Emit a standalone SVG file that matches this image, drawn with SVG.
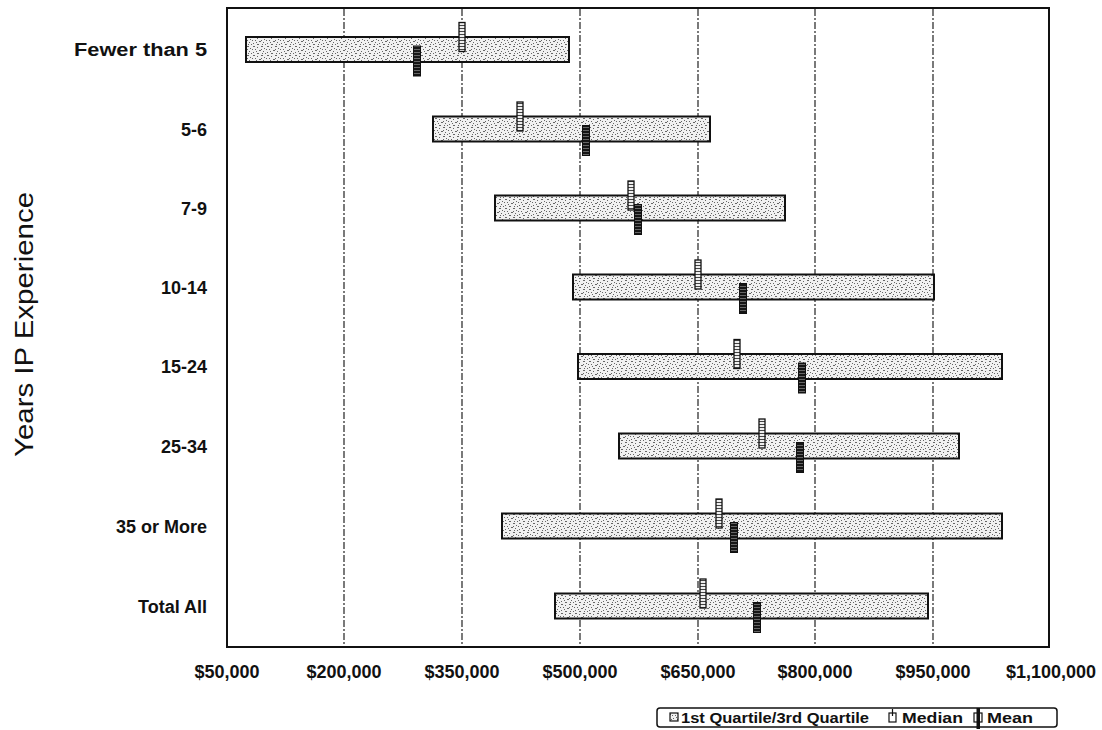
<svg xmlns="http://www.w3.org/2000/svg" width="1102" height="730" viewBox="0 0 1102 730">
<style>
.cat{font-family:"Liberation Sans",Arial,sans-serif;font-weight:bold;font-size:18px;fill:#111;text-anchor:end}
.tick{font-family:"Liberation Sans",Arial,sans-serif;font-weight:bold;font-size:18px;fill:#111;text-anchor:middle}
.ttl{font-family:"Liberation Sans",Arial,sans-serif;font-size:26px;fill:#111;text-anchor:middle}
.leg{font-family:"Liberation Sans",Arial,sans-serif;font-weight:bold;font-size:15px;fill:#111}
.grid{stroke:#333;stroke-width:1.3;stroke-dasharray:7 2 2 2;fill:none}
.frame{stroke:#111;stroke-width:2;fill:none}
.bar{fill:url(#stip);stroke:#111;stroke-width:2}
.med{fill:url(#hatchL);stroke:#111;stroke-width:1.3}
.mean{fill:url(#hatchD);stroke:#111;stroke-width:1}
</style>
<defs>
<pattern id="stip" width="14" height="9" patternUnits="userSpaceOnUse">
<rect width="14" height="9" fill="#f1f1f1"/>
<g fill="#666">
<rect x="1" y="1" width="2" height="1"/><rect x="5" y="2" width="1" height="1"/><rect x="9" y="1" width="2" height="1"/>
<rect x="12" y="3" width="1" height="1"/><rect x="3" y="4" width="1" height="1"/><rect x="7" y="5" width="2" height="1"/>
<rect x="11" y="6" width="1" height="1"/><rect x="1" y="7" width="1" height="1"/><rect x="5" y="8" width="2" height="1"/>
<rect x="13" y="8" width="1" height="1"/><rect x="9" y="4" width="1" height="1"/><rect x="0" y="4" width="1" height="1"/>
<rect x="4" y="6" width="1" height="1"/><rect x="10" y="8" width="1" height="1"/>
</g>
</pattern>
<pattern id="hatchL" width="6" height="3" patternUnits="userSpaceOnUse">
<rect width="6" height="3" fill="#eee"/><rect y="1" width="6" height="1" fill="#444"/>
</pattern>
<pattern id="hatchD" width="6" height="3" patternUnits="userSpaceOnUse">
<rect width="6" height="3" fill="#151515"/><rect y="1" width="6" height="1" fill="#666"/>
</pattern>
</defs>
<rect width="1102" height="730" fill="#fff"/>

<g id="gridlines">
<line class="grid" x1="344" y1="9" x2="344" y2="646"/>
<line class="grid" x1="462" y1="9" x2="462" y2="646"/>
<line class="grid" x1="580" y1="9" x2="580" y2="646"/>
<line class="grid" x1="698" y1="9" x2="698" y2="646"/>
<line class="grid" x1="815" y1="9" x2="815" y2="646"/>
<line class="grid" x1="933" y1="9" x2="933" y2="646"/>
</g>
<rect id="plot-frame" class="frame" x="227" y="8" width="822" height="639"/>

<g id="connectors"></g>

<g id="row-fewer-than-5">
<text class="cat" x="207" y="56" textLength="133" lengthAdjust="spacingAndGlyphs">Fewer than 5</text>
<rect class="bar" x="246" y="37" width="323" height="25"/>
<rect class="med" x="459" y="22.5" width="6" height="29"/>
<rect class="mean" x="413.5" y="46" width="7" height="30"/>
</g>
<g id="row-5-6">
<text class="cat" x="207" y="135.5">5-6</text>
<rect class="bar" x="433" y="116.5" width="277" height="25"/>
<rect class="med" x="517" y="102" width="6" height="29"/>
<rect class="mean" x="582.5" y="125.5" width="7" height="30"/>
</g>
<g id="row-7-9">
<text class="cat" x="207" y="214.5">7-9</text>
<rect class="bar" x="495" y="195.5" width="290" height="25"/>
<rect class="med" x="628" y="181" width="6" height="29"/>
<rect class="mean" x="634.5" y="204.5" width="7" height="30"/>
</g>
<g id="row-10-14">
<text class="cat" x="207" y="293.5">10-14</text>
<rect class="bar" x="573" y="274.5" width="361" height="25"/>
<rect class="med" x="695" y="260" width="6" height="29"/>
<rect class="mean" x="739.5" y="283.5" width="7" height="30"/>
</g>
<g id="row-15-24">
<text class="cat" x="207" y="373">15-24</text>
<rect class="bar" x="578" y="354" width="424" height="25"/>
<rect class="med" x="734" y="339.5" width="6" height="29"/>
<rect class="mean" x="798.5" y="363" width="7" height="30"/>
</g>
<g id="row-25-34">
<text class="cat" x="207" y="452.5">25-34</text>
<rect class="bar" x="619" y="433.5" width="340" height="25"/>
<rect class="med" x="759" y="419" width="6" height="29"/>
<rect class="mean" x="796.5" y="442.5" width="7" height="30"/>
</g>
<g id="row-35-or-more">
<text class="cat" x="207" y="532.5">35 or More</text>
<rect class="bar" x="502" y="513.5" width="500" height="25"/>
<rect class="med" x="716" y="499" width="6" height="29"/>
<rect class="mean" x="730.5" y="522.5" width="7" height="30"/>
</g>
<g id="row-total-all">
<text class="cat" x="207" y="612.5">Total All</text>
<rect class="bar" x="555" y="593.5" width="373" height="25"/>
<rect class="med" x="700" y="579" width="6" height="29"/>
<rect class="mean" x="753.5" y="602.5" width="7" height="30"/>
</g>

<g id="x-axis-labels">
<text class="tick" x="227" y="678">$50,000</text>
<text class="tick" x="344" y="678">$200,000</text>
<text class="tick" x="462" y="678">$350,000</text>
<text class="tick" x="580" y="678">$500,000</text>
<text class="tick" x="698" y="678">$650,000</text>
<text class="tick" x="815" y="678">$800,000</text>
<text class="tick" x="933" y="678">$950,000</text>
<text class="tick" x="1051" y="678">$1,100,000</text>
</g>

<g id="y-axis-title">
<text class="ttl" transform="translate(33,324.5) rotate(-90)" x="0" y="0" textLength="265" lengthAdjust="spacingAndGlyphs">Years IP Experience</text>
</g>

<g id="legend">
<rect x="657" y="708" width="400" height="19" rx="3" fill="#fff" stroke="#111" stroke-width="1.5"/>
<rect x="670" y="713" width="8" height="8" fill="url(#stip)" stroke="#111" stroke-width="1.2"/>
<text class="leg" x="681" y="723" textLength="188" lengthAdjust="spacingAndGlyphs">1st Quartile/3rd Quartile</text>
<rect x="889" y="713" width="7" height="9" fill="#fff" stroke="#111" stroke-width="1.2"/>
<line x1="892.5" y1="709" x2="892.5" y2="716" stroke="#111" stroke-width="1.2"/>
<text class="leg" x="902" y="723" textLength="61" lengthAdjust="spacingAndGlyphs">Median</text>
<rect x="974" y="713" width="8" height="9" fill="#fff" stroke="#111" stroke-width="1.2"/>
<rect x="976.5" y="708" width="3.5" height="21" fill="#111"/>
<text class="leg" x="987" y="723" textLength="46" lengthAdjust="spacingAndGlyphs">Mean</text>
</g>
</svg>
